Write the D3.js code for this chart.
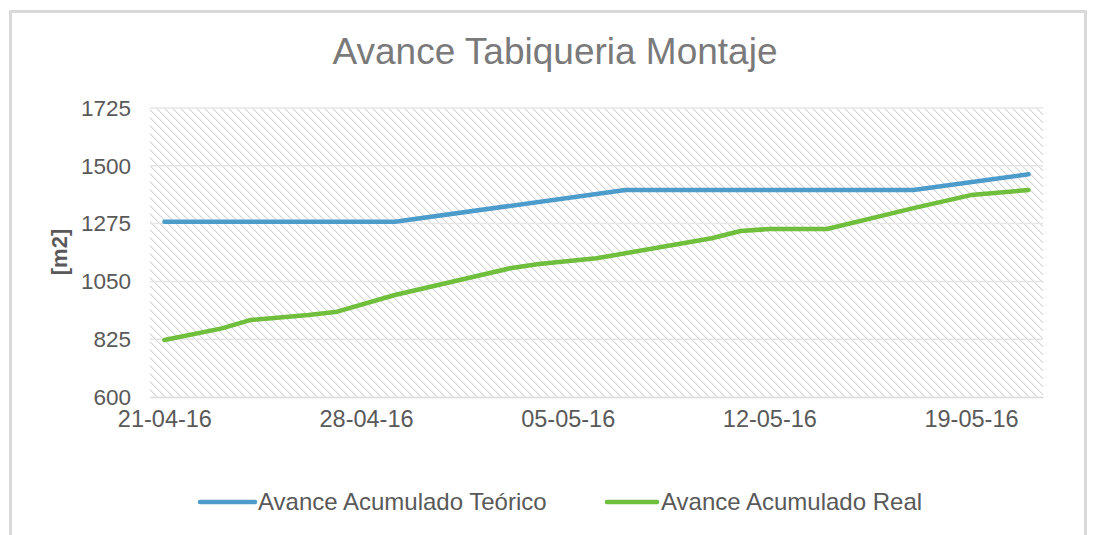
<!DOCTYPE html>
<html>
<head>
<meta charset="utf-8">
<script src="https://cdn.jsdelivr.net/npm/d3@7"></script>
<style>
  html, body { margin: 0; padding: 0; background: #ffffff; }
  svg { display: block; font-family: "Liberation Sans", Arial, Helvetica, sans-serif; }
</style>
</head>
<body>
<svg id="chart" width="1094" height="535"></svg>
<script>
// Theoretical (planned) cumulative progress
const teoricoDates  = ["21-04-16", "29-04-16", "07-05-16", "17-05-16", "21-05-16"];
const teoricoValues = [1282, 1282, 1406, 1406, 1467];

// Actual cumulative progress
const realDates  = ["21-04-16", "23-04-16", "24-04-16", "26-04-16", "27-04-16", "29-04-16",
                    "02-05-16", "03-05-16", "04-05-16", "06-05-16", "10-05-16", "11-05-16",
                    "12-05-16", "14-05-16", "16-05-16", "17-05-16", "19-05-16", "21-05-16"];
const realValues = [822, 867, 900, 919, 932, 997,
                    1075, 1101, 1118, 1140, 1218, 1246,
                    1254, 1254, 1308, 1335, 1386, 1406];

const yTicks = [600, 825, 1050, 1275, 1500, 1725];
const xTickLabels = ["21-04-16", "28-04-16", "05-05-16", "12-05-16", "19-05-16"];
const seriesNames = ["Avance Acumulado Teórico", "Avance Acumulado Real"];
const seriesColors = ["#4b9bcb", "#6fbe3c"];
const chartTitle = "Avance Tabiqueria Montaje";
const yTitle = "[m2]";

const parse = d3.timeParse("%d-%m-%y");
const fmt = d3.timeFormat("%d-%m-%y");

const svg = d3.select("#chart");
const plot = { left: 150, right: 1043, top: 108, bottom: 397 };

// outer frame
svg.append("rect")
  .attr("x", 10.5).attr("y", 11.5)
  .attr("width", 1075).attr("height", 560)
  .attr("fill", "#ffffff")
  .attr("stroke", "#d9d9d9").attr("stroke-width", 3);

// diagonal hatch for the plot background
const defs = svg.append("defs");
const pat = defs.append("pattern")
  .attr("id", "hatch")
  .attr("patternUnits", "userSpaceOnUse")
  .attr("width", 8).attr("height", 8);
for (let r = 0; r < 8; r++) {
  pat.append("rect").attr("x", r).attr("y", r).attr("width", 1).attr("height", 1)
    .attr("fill", "#d6d6d6").attr("shape-rendering", "crispEdges");
  pat.append("rect").attr("x", (r + 1) % 8).attr("y", r).attr("width", 1).attr("height", 1)
    .attr("fill", "#ececec").attr("shape-rendering", "crispEdges");
}

// each date occupies one day slot, points sit mid-slot
const dayMs = 864e5;
const x = d3.scaleTime()
  .domain([new Date(parse("21-04-16").getTime() - dayMs / 2),
           new Date(parse("21-05-16").getTime() + dayMs / 2)])
  .range([plot.left, plot.right]);

const y = d3.scaleLinear()
  .domain([600, 1725])
  .range([plot.bottom, plot.top]);

svg.append("rect")
  .attr("x", plot.left).attr("y", plot.top)
  .attr("width", plot.right - plot.left).attr("height", plot.bottom - plot.top)
  .attr("fill", "url(#hatch)");

// horizontal gridlines
svg.append("g")
  .selectAll("line")
  .data(yTicks.filter(v => v !== 600))
  .join("line")
  .attr("x1", plot.left).attr("x2", plot.right)
  .attr("y1", d => y(d)).attr("y2", d => y(d))
  .attr("stroke", "#e6e6e6").attr("stroke-width", 1.5);

// y axis
const yAxis = svg.append("g")
  .attr("transform", `translate(${plot.left},0)`)
  .call(d3.axisLeft(y).tickValues(yTicks).tickSize(0).tickPadding(19).tickFormat(d3.format("d")));
yAxis.select(".domain").remove();
yAxis.selectAll("text")
  .attr("fill", "#595959").attr("font-size", 22.5)
  .attr("font-family", "Liberation Sans, Arial, sans-serif");

// x axis
const xAxis = svg.append("g")
  .attr("transform", `translate(0,${plot.bottom})`)
  .call(d3.axisBottom(x).tickValues(xTickLabels.map(parse)).tickSize(0).tickPadding(13).tickFormat(fmt));
xAxis.select(".domain")
  .attr("stroke", "#d9d9d9").attr("stroke-width", 1.5);
xAxis.selectAll("text")
  .attr("fill", "#595959").attr("font-size", 23.5)
  .attr("font-family", "Liberation Sans, Arial, sans-serif");

// y title
svg.append("text")
  .attr("transform", "translate(67,252) rotate(-90)")
  .attr("text-anchor", "middle")
  .attr("font-size", 22).attr("font-weight", "bold")
  .attr("fill", "#595959")
  .text(yTitle);

// title
svg.append("text")
  .attr("x", 555).attr("y", 64)
  .attr("text-anchor", "middle")
  .attr("font-size", 37)
  .attr("fill", "#7a7a7a")
  .text(chartTitle);

// series lines
const line = d3.line()
  .x(d => x(d.date))
  .y(d => y(d.value));

const series = [
  teoricoDates.map((d, i) => ({ date: parse(d), value: teoricoValues[i] })),
  realDates.map((d, i) => ({ date: parse(d), value: realValues[i] }))
];

svg.append("g")
  .selectAll("path")
  .data(series)
  .join("path")
  .attr("d", line)
  .attr("fill", "none")
  .attr("stroke", (d, i) => seriesColors[i])
  .attr("stroke-width", 4.5)
  .attr("stroke-linecap", "round")
  .attr("stroke-linejoin", "round");

// legend
const legendItems = [
  { x1: 200, x2: 255, tx: 258 },
  { x1: 607, x2: 657, tx: 661 }
];
const lg = svg.append("g");
legendItems.forEach((it, i) => {
  lg.append("line")
    .attr("x1", it.x1).attr("x2", it.x2)
    .attr("y1", 502).attr("y2", 502)
    .attr("stroke", seriesColors[i]).attr("stroke-width", 4.5)
    .attr("stroke-linecap", "round");
  lg.append("text")
    .attr("x", it.tx).attr("y", 510)
    .attr("font-size", 24)
    .attr("fill", "#595959")
    .text(seriesNames[i]);
});
</script>
</body>
</html>
